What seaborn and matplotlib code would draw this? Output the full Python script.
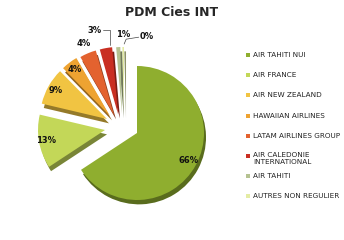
import numpy as np
import matplotlib
matplotlib.use("Agg")
import matplotlib.pyplot as plt
import matplotlib.colors as mcolors
from matplotlib.patches import Rectangle
import seaborn as sns

# ---- data ----
title = "PDM Cies INT"
companies = ["AIR TAHITI NUI", "AIR FRANCE", "AIR NEW ZEALAND", "HAWAIIAN AIRLINES",
             "LATAM AIRLINES GROUP", "AIR CALEDONIE\nINTERNATIONAL", "AIR TAHITI",
             "AUTRES NON REGULIER"]
shares = [66, 13, 9, 4, 4, 3, 1, 0.4]
colors = ["#8fae2f", "#c3d758", "#f1c442", "#eea331", "#e3622f", "#c92f22", "#b5c291", "#e4eca4"]

sns.set_theme(style="white")
plt.rcParams['font.family'] = ['DejaVu Sans']

W, H = 344, 240
fig = plt.figure(figsize=(W / 100, H / 100), dpi=100)
fig.patch.set_facecolor("white")

# pie geometry (pixels)
R_px = 67
cx, cy = 137, 133
half = 125
ax = fig.add_axes([(cx - half) / W, (H - cy - half) / H, 2 * half / W, 2 * half / H])
L = half / R_px

# slice displacement (px, y up) to mimic the exploded 3-D look
offsets_px = [(0, 0), (-32, 3), (-30, 14), (-27, 17), (-23, 18), (-19, 19), (-15, 19), (-13, 19)]
offsets = [(ox / R_px, oy / R_px) for ox, oy in offsets_px]
depth = (0.03, -0.065)

def darken(c, f=0.62):
    r, g, b = mcolors.to_rgb(c)
    return (r * f, g * f, b * f)

n = len(shares)
wedges = [None] * n
# side/thickness layer first
for i in range(n):
    cols = [darken(colors[j]) if j == i else "none" for j in range(n)]
    ax.pie(shares, colors=cols, startangle=90, counterclock=False,
           center=(offsets[i][0] + depth[0], offsets[i][1] + depth[1]),
           wedgeprops=dict(linewidth=0))
for i in range(n):
    cols = [colors[j] if j == i else "none" for j in range(n)]
    ws, _ = ax.pie(shares, colors=cols, startangle=90, counterclock=False,
                   center=offsets[i], wedgeprops=dict(linewidth=0))
    wedges[i] = ws[i]
ax.set_xlim(-L, L)
ax.set_ylim(-L, L)
ax.set_aspect("equal")
ax.axis("off")

total = sum(shares)
pct = [f"{round(v / total * 100):d}%" for v in shares]
lab_r = [0.88, 0.90, 0.88, 0.88, 1.16, 1.30, 1.19, 1.21]
lab_da = [0, 0, 0, 0, 0, 5, -4, -17]
label_xy = []
for w, t, r, da in zip(wedges, pct, lab_r, lab_da):
    mid = np.deg2rad((w.theta1 + w.theta2) / 2 + da)
    x = w.center[0] + r * np.cos(mid)
    y = w.center[1] + r * np.sin(mid)
    label_xy.append((x, y))
    ax.text(x, y, t, ha="center", va="center", fontsize=6, fontweight="bold", color="#111111")

def tip(i):
    w = wedges[i]
    mid = np.deg2rad((w.theta1 + w.theta2) / 2)
    return (w.center[0] + 1.0 * np.cos(mid), w.center[1] + 1.0 * np.sin(mid))

# leader line for "3%": right of label, then down to slice
u = 1 / R_px
lx, ly = label_xy[5]
tx, ty = tip(5)
ax.plot([lx + 8 * u, tx + 4 * u, tx + 4 * u], [ly, ly, ty + 3 * u], color="#444444", lw=0.5)
# leader line for "0%": from label left down to slice
lx, ly = label_xy[7]
tx, ty = tip(7)
ax.plot([lx - 8 * u, tx + 3 * u, tx + 1 * u], [ly - 1 * u, ly - 3 * u, ty + 3 * u],
        color="#444444", lw=0.5)

# title
fig.text(172 / W, 1 - 13 / H, title, ha="center", va="center", fontsize=9, fontweight="bold")

# legend (manual, uniform rows)
row0, step = 55, 20.2
for i, (name, c) in enumerate(zip(companies, colors)):
    y = row0 + i * step
    fig.patches.append(Rectangle(((248 - 2) / W, 1 - (y + 2) / H), 4 / W, 4 / H,
                                 transform=fig.transFigure, facecolor=c, edgecolor="none"))
    if "\n" in name:
        fig.text(253 / W, 1 - (y - 3.9) / H, name, ha="left", va="top",
                 fontsize=5.2, color="#222222", linespacing=1.15)
    else:
        fig.text(253 / W, 1 - y / H, name, ha="left", va="center",
                 fontsize=5.2, color="#222222")

fig.savefig("out.png", dpi=100, facecolor="white")
